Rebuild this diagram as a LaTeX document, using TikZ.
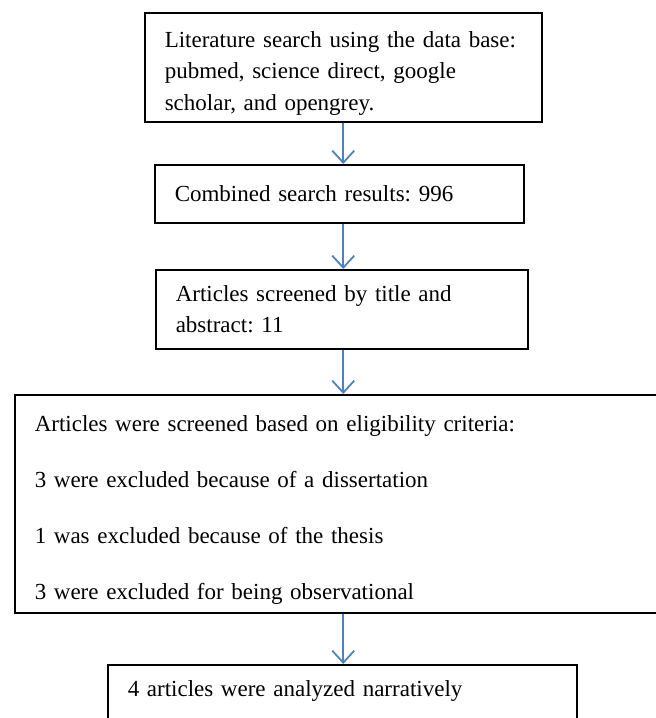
\documentclass[tikz,border=0pt]{standalone}
\usepackage{fontspec}
\setmainfont{Liberation Serif}
\frenchspacing
\usetikzlibrary{arrows.meta}
\definecolor{arrowblue}{RGB}{79,129,189}

\begin{document}
\begin{tikzpicture}[
      x=1pt, y=-1pt,
      >={Straight Barb[length=12pt, width=22pt]},
      block/.style={draw, line width=1.5pt, rectangle, inner xsep=20pt, inner ysep=4pt, align=left, anchor=north west},
      flow/.style={->, draw=arrowblue, line width=1.8pt},
      every node/.style={font=\fontsize{23}{31.5}\selectfont}
    ]
    \useasboundingbox (0,0) rectangle (656,718);
    \clip (0,0) rectangle (656,718);

    % Busqueda
    \node[block, text width=357pt, minimum height=109pt] (search) at (144,12) {
      \rule{0pt}{28pt}Literature search using the data base:\\
      pubmed, science direct, google\\
      scholar, and opengrey.
    };

    % Resultados
    \node[block, text width=329pt, minimum height=58pt] (combined) at (154,164) {
      Combined search results: 996
    };

    % Cribado
    \node[block, text width=332pt, minimum height=79pt] (screened) at (155,269) {
      Articles screened by title and\\
      abstract: 11
    };

    % Elegibilidad
    \node[block, text width=626pt, minimum height=218pt] (eligible) at (14,394) {
      \rule{0pt}{28pt}Articles were screened based on eligibility criteria:\\[24.5pt]
      3 were excluded because of a dissertation\\[24.5pt]
      1 was excluded because of the thesis\\[24.5pt]
      3 were excluded for being observational
    };

    % Incluidos
    \node[block, text width=429pt, minimum height=80pt] (included) at (107,664) {
      4 articles were analyzed narratively\\
      \mbox{}
    };

    % Flechas
    \draw[flow] (search.south) -- (search.south |- combined.north);
    \draw[flow] (combined.south -| search.south) -- (screened.north -| search.south);
    \draw[flow] (screened.south -| search.south) -- (eligible.north -| search.south);
    \draw[flow] (eligible.south -| search.south) -- (included.north -| search.south);

  \end{tikzpicture}
\end{document}
